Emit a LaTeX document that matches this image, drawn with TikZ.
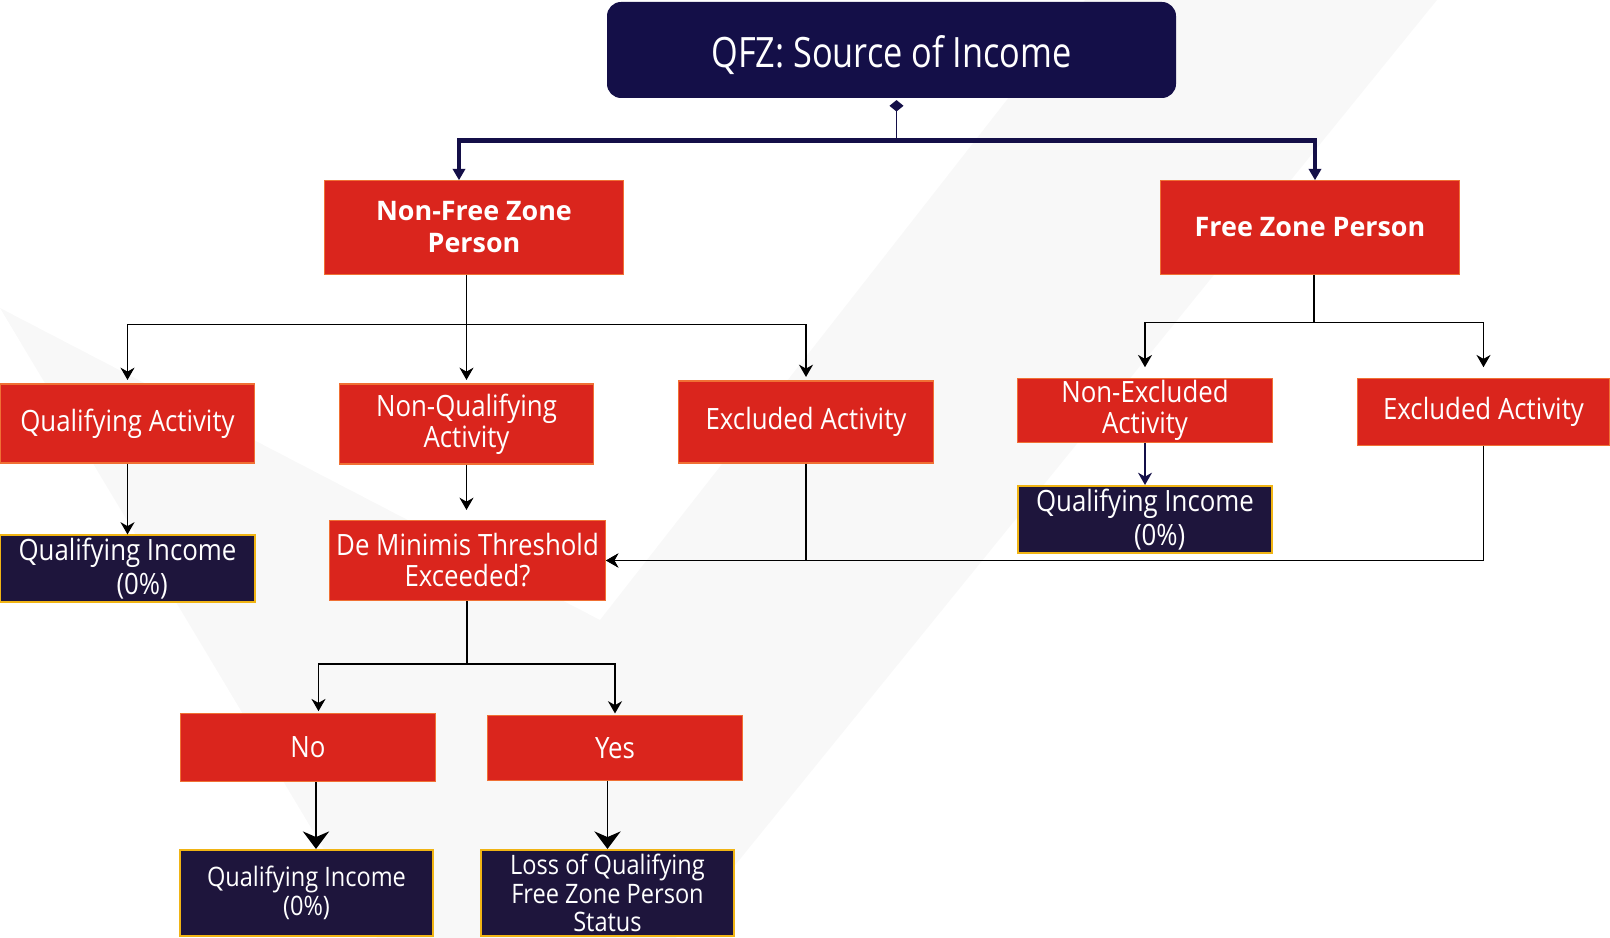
\documentclass[tikz,border=0pt]{standalone}
\usepackage{fontspec}
\setmainfont{Open Sans}
\newfontfamily\boxfont{Open Sans}[FakeStretch=0.88]
\newfontfamily\titlefont{Open Sans}[FakeStretch=0.82]
\usetikzlibrary{arrows.meta,positioning}
\definecolor{qfzred}{RGB}{218,37,29}
\definecolor{qfzedge}{RGB}{240,112,52}
\definecolor{qfznavy}{RGB}{20,15,72}
\definecolor{qfzdark}{RGB}{30,21,60}
\definecolor{qfzgold}{RGB}{240,180,20}
\definecolor{qfzwash}{RGB}{248,248,248}

\begin{document}
\begin{tikzpicture}[
    x=1cm,y=1cm,
    every node/.style={font=\boxfont\fontsize{16.7}{17.7}\selectfont, text=white, align=center, inner sep=0pt},
    redbox/.style={fill=qfzred, draw=qfzedge, line width=0.6pt, minimum width=5.09cm},
    darkbox/.style={fill=qfzdark, draw=qfzgold, line width=0.9pt, minimum width=5.09cm,
                    font=\boxfont\fontsize{16.7}{19.8}\selectfont},
    smalltext/.style={font=\boxfont\fontsize{15.25}{16.4}\selectfont},
    heading/.style={font=\rmfamily\bfseries\fontsize{15.3}{18.2}\selectfont},
    wire/.style={draw=black, line width=0.8pt},
    flow/.style={wire, -{Stealth[length=7pt,width=8pt]}},
    bigflow/.style={wire, -{Stealth[length=10pt,width=15pt]}},
    trunk/.style={draw=qfznavy, line width=2.4pt, -{Triangle[length=6.5pt,width=7pt]}},
    stem/.style={draw=qfznavy, line width=0.7pt, -{Diamond[length=6.5pt,width=8pt]}}
]
    \useasboundingbox (0,0) rectangle (32.2,18.76);
    \fill[qfzwash] (0,12.6) -- (12,6.36) -- (21.7,18.76) -- (28.74,18.76) -- (13.52,0) -- (7.54,0) -- cycle;

    \node[fill=qfznavy, rounded corners=8pt, minimum width=11.38cm, minimum height=1.92cm,
          text height=19.5pt, text depth=0pt,
          font=\titlefont\fontsize{23.8}{28}\selectfont] (title) at (17.83,17.76) {QFZ: Source of Income};

    \node[redbox, heading, minimum width=5.97cm, minimum height=1.87cm] (nfz) at (9.48,14.21) {Non-Free Zone\\Person};
    \node[redbox, heading, minimum width=5.98cm, minimum height=1.87cm] (fz) at (26.2,14.21) {Free Zone Person};

    \node[redbox, minimum height=1.58cm] (qa) at (2.55,10.29) {Qualifying Activity};
    \node[redbox, minimum width=5.07cm, minimum height=1.60cm] (nqa) at (9.33,10.28) {Non-Qualifying\\Activity};
    \node[redbox, minimum height=1.64cm] (exa) at (16.12,10.32) {Excluded Activity};
    \node[redbox, minimum height=1.27cm] (nea) at (22.9,10.55) {Non-Excluded\\Activity};
    \node[redbox, minimum width=5.05cm, minimum height=1.33cm] (exb) at (29.67,10.52) {Excluded Activity};

    \node[darkbox, minimum height=1.33cm] (qia) at (2.55,7.39) {Qualifying Income\\\hspace*{1em}(0\%)};
    \node[redbox, minimum width=5.52cm, minimum height=1.60cm] (dm) at (9.35,7.55) {De Minimis Threshold\\Exceeded?};
    \node[darkbox, minimum height=1.35cm] (qib) at (22.9,8.37) {Qualifying Income\\\hspace*{1em}(0\%)};

    \node[redbox, minimum height=1.36cm] (no) at (6.16,3.81) {No};
    \node[redbox, minimum height=1.29cm] (yes) at (12.3,3.8) {Yes};

    \node[darkbox, smalltext, minimum width=5.07cm, minimum height=1.73cm] (qic) at (6.13,0.9) {Qualifying Income\\(0\%)};
    \node[darkbox, smalltext, minimum width=5.07cm, minimum height=1.73cm] (loss) at (12.15,0.9) {Loss of Qualifying\\Free Zone Person\\Status};

    \coordinate (hub) at (17.93,15.95);
    \draw[stem, shorten >=1pt] (hub) -- (hub |- title.south);
    \draw[trunk] (hub) -| ([xshift=-0.3cm]nfz.north);
    \draw[trunk] (hub) -| ([xshift=0.1cm]fz.north);

    \coordinate (nfzbus) at (9.33,12.27);
    \draw[wire] (nfz.south -| nfzbus) -- (nfzbus);
    \draw[flow, shorten >=2pt] (nfzbus) -| (qa.north);
    \draw[flow, shorten >=2pt] (nfzbus) -- (nqa.north);
    \draw[flow, shorten >=2pt] (nfzbus) -| (exa.north);

    \coordinate (fzbus) at (26.28,12.31);
    \draw[wire] (fz.south -| fzbus) -- (fzbus);
    \draw[flow, shorten >=0.22cm] (fzbus) -| (nea.north);
    \draw[flow, shorten >=0.22cm] (fzbus) -| (exb.north);

    \draw[flow] (qa) -- (qia);
    \draw[flow, shorten >=0.2cm] (nqa.south) -- (nqa.south |- dm.north);
    \draw[flow, draw=qfznavy] (nea) -- (qib);
    \draw[flow] (exa.south) |- (dm.east);
    \draw[flow] (exb.south) |- (dm.east);

    \coordinate (dmbus) at (9.34,5.48);
    \draw[wire] (dm.south -| dmbus) -- (dmbus);
    \draw[flow, shorten >=1pt] (dmbus) -| ([xshift=0.21cm]no.north);
    \draw[flow, shorten >=1pt] (dmbus) -| (yes.north);

    \draw[bigflow] ([xshift=0.16cm]no.south) -- ([xshift=0.16cm]no.south |- qic.north);
    \draw[bigflow] (yes.south -| loss.north) -- (loss.north);
\end{tikzpicture}
\end{document}
